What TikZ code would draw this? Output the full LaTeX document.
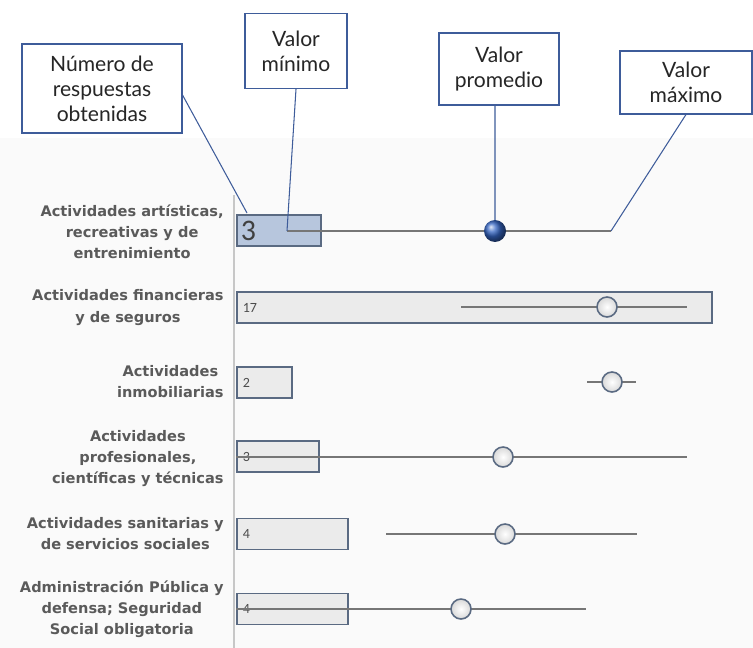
\documentclass[tikz,border=0pt]{standalone}
\usepackage{fontspec}
\usepackage{tikz}
\usetikzlibrary{positioning}
\newfontfamily\catfont{DejaVu Sans}
\newfontfamily\numfont{Carlito}
\newfontfamily\callfont{Lato}
\definecolor{labelgray}{HTML}{5A5A5A}
\definecolor{callblue}{HTML}{3E5C9A}
\definecolor{barblue}{HTML}{B7C6DD}
\definecolor{barline}{HTML}{5A6A82}
\definecolor{whisk}{HTML}{767676}
\definecolor{dotblue}{HTML}{3566C4}

\begin{document}
\begin{tikzpicture}[x=0.02cm,y=-0.02cm,
callout/.style={draw=callblue,line width=0.6pt,fill=white,inner sep=0pt,align=center,
    font=\callfont\fontsize{12}{14.2}\selectfont,text=black!85},
link/.style={draw=callblue,line width=0.6pt},
cat/.style={anchor=east,inner sep=0pt,align=center,text=labelgray,
    font=\catfont\bfseries\fontsize{8.3}{12}\selectfont},
bar/.style={draw=barline,line width=0.9pt,fill=black!8,anchor=west,inner sep=0pt,minimum height=0.62cm},
num/.style={anchor=west,inner sep=0pt,text=black!70,font=\numfont\fontsize{8}{9}\selectfont},
whisker/.style={draw=whisk,line width=1.1pt},
avgdot/.style={circle,draw=barline,line width=0.9pt,inner sep=0pt,minimum size=0.4cm,
    inner color=white,outer color=black!15}]
\useasboundingbox (0,0) rectangle (753,648);
\fill[black!2] (0,138) rectangle (753,648);
\draw[black!22,line width=0.8pt] (234,195) -- (234,648);

% row labels
\node (lab1) [cat] at (224,231.5) {Actividades artísticas,\\recreativas y de\\entrenimiento};
\node (lab2) [cat] at (224,307.5) {Actividades financieras\\y de seguros};
\node (lab3) [cat] at (224,381.5) {Actividades\\inmobiliarias};
\node (lab4) [cat] at (224,458.5) {Actividades\\profesionales,\\científicas y técnicas};
\node (lab5) [cat] at (224,534) {Actividades sanitarias y\\de servicios sociales};
\node (lab6) [cat] at (224,609.5) {Administración Pública y\\defensa; Seguridad\\Social obligatoria};

% bars
\node (bar1) [bar,fill=barblue,minimum width=1.68cm] at (236,230.5) {};
\node (bar2) [bar,minimum width=9.5cm] at (236,307.5) {};
\node (bar3) [bar,minimum width=1.1cm] at (236,382.5) {};
\node (bar4) [bar,minimum width=1.64cm] at (236,456.5) {};
\node (bar5) [bar,minimum width=2.22cm] at (236,534) {};
\node (bar6) [bar,minimum width=2.22cm] at (236,609) {};

\node (n1) [num,text=black!75,font=\numfont\fontsize{17}{18}\selectfont,right=0.09cm of bar1.west] {3};
\node (n2) [num,right=0.13cm of bar2.west] {17};
\node (n3) [num,right=0.13cm of bar3.west] {2};
\node (n4) [num,right=0.13cm of bar4.west] {3};
\node (n5) [num,right=0.13cm of bar5.west] {4};
\node (n6) [num,right=0.13cm of bar6.west] {4};

% min / max
\coordinate (lo1) at (287,231); \coordinate (hi1) at (611,231);
\coordinate (lo2) at (461,307); \coordinate (hi2) at (687,307);
\coordinate (lo3) at (587,382); \coordinate (hi3) at (636,382);
\coordinate (lo4) at (236,457); \coordinate (hi4) at (687,457);
\coordinate (lo5) at (386,534); \coordinate (hi5) at (637,534);
\coordinate (lo6) at (236,609); \coordinate (hi6) at (586,609);
\draw[whisker] (lo1) -- (hi1);
\draw[whisker] (lo2) -- (hi2);
\draw[whisker] (lo3) -- (hi3);
\draw[whisker] (lo4) -- (hi4);
\draw[whisker] (lo5) -- (hi5);
\draw[whisker] (lo6) -- (hi6);

% callouts
\node (cnum) [callout,minimum width=3.2cm,minimum height=1.78cm] at (102,88.5) {Número de\\respuestas\\obtenidas};
\node (cmin) [callout,minimum width=2.04cm,minimum height=1.5cm] at (296,51) {Valor\\mínimo};
\node (cavg) [callout,minimum width=2.4cm,minimum height=1.44cm] at (499,69) {Valor\\promedio};
\node (cmax) [callout,minimum width=2.64cm,minimum height=1.26cm] at (686,82.5) {Valor\\máximo};
\coordinate (numpt) at (247,213);

\draw[link] ([yshift=-0.13cm]cnum.east) -- (numpt);
\draw[link] (cmin.south) -- (lo1);
\draw[link] ([xshift=-0.08cm]cavg.south) -- (495,231);
\draw[link] (cmax.south) -- (hi1);

% averages
\node (avg1) [avgdot,minimum size=0.44cm,draw=none,ball color=dotblue] at (495,231) {};
\node (avg2) [avgdot] at (607,307) {};
\node (avg3) [avgdot] at (612,382) {};
\node (avg4) [avgdot] at (503,457) {};
\node (avg5) [avgdot] at (505,534) {};
\node (avg6) [avgdot] at (461,609) {};
\end{tikzpicture}
\end{document}
